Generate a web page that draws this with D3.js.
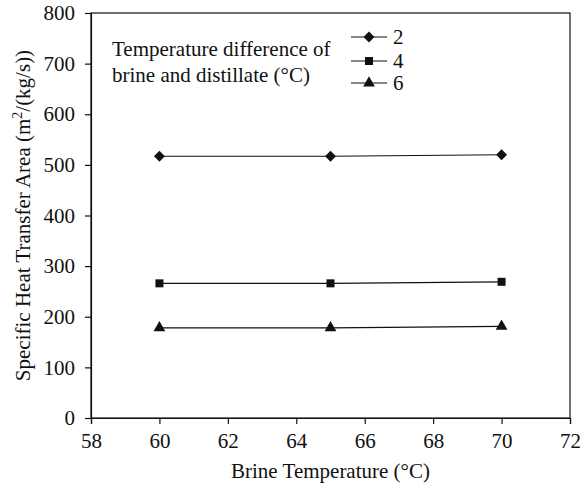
<!DOCTYPE html>
<html>
<head>
<meta charset="utf-8">
<style>
  body { margin: 0; background: #fff; }
  svg text { font-family: "Liberation Serif", "Times New Roman", serif; fill: #111; }
</style>
</head>
<body>
<svg width="585" height="488"></svg>
<script src="https://d3js.org/d3.v7.min.js"></script>
<script>

// brine temperature (°C)
var brineTemp = [60, 65, 70];
// temperature difference of brine and distillate (°C)
var tempDiff = ["2", "4", "6"];
// specific heat transfer area, m2/(kg/s)
var area2 = [517, 517, 520];
var area4 = [266, 266, 269];
var area6 = [178, 178, 181];
var xTicks = [58, 60, 62, 64, 66, 68, 70, 72];
var yTicks = [0, 100, 200, 300, 400, 500, 600, 700, 800];

var series = [
    {name: tempDiff[0], values: area2, symbol: d3.symbolDiamond2, size: 76},
    {name: tempDiff[1], values: area4, symbol: d3.symbolSquare, size: 64},
    {name: tempDiff[2], values: area6, symbol: d3.symbolTriangle, size: 60}
];

var svg = d3.select("svg"),
    margin = {top: 13, right: 15, bottom: 70, left: 91},
    width = +svg.attr("width") - margin.left - margin.right,
    height = +svg.attr("height") - margin.top - margin.bottom,
    g = svg.append("g").attr("transform", "translate(" + margin.left + "," + margin.top + ")");

var x = d3.scaleLinear().domain([58, 72]).range([0, width]);
var y = d3.scaleLinear().domain([0, 800]).range([height, 0]);

// frame
g.append("rect")
    .attr("width", width)
    .attr("height", height)
    .attr("fill", "none")
    .attr("stroke", "#111")
    .attr("stroke-width", 1.2);

var xAxis = g.append("g")
    .attr("transform", "translate(0," + height + ")")
    .call(d3.axisBottom(x).tickValues(xTicks).tickSize(6).tickPadding(9));

var yAxis = g.append("g")
    .call(d3.axisLeft(y).tickValues(yTicks).tickSize(6).tickPadding(10));

[xAxis, yAxis].forEach(function(a) {
    a.attr("font-family", "Liberation Serif").attr("font-size", 21);
    a.select(".domain").attr("stroke", "#111").attr("stroke-width", 1.2);
    a.selectAll(".tick line").attr("stroke", "#111").attr("stroke-width", 1.2);
    a.selectAll(".tick text").attr("fill", "#111");
});

var line = d3.line()
    .x(function(d, i) { return x(brineTemp[i]); })
    .y(function(d) { return y(d); });

series.forEach(function(s) {
    g.append("path")
        .datum(s.values)
        .attr("fill", "none")
        .attr("stroke", "#111")
        .attr("stroke-width", 1.2)
        .attr("d", line);

    g.selectAll(null)
        .data(s.values)
        .enter().append("path")
        .attr("transform", function(d, i) { return "translate(" + x(brineTemp[i]) + "," + y(d) + ")"; })
        .attr("d", d3.symbol().type(s.symbol).size(s.size))
        .attr("fill", "#111");
});

// legend
var legend = svg.append("g");
legend.append("text")
    .attr("x", 112)
    .attr("y", 56)
    .style("font-size", "21px")
    .text("Temperature difference of");
legend.append("text")
    .attr("x", 112)
    .attr("y", 82)
    .style("font-size", "21px")
    .text("brine and distillate (°C)");

var legendY = [37, 61, 83];
series.forEach(function(s, i) {
    var row = legend.append("g").attr("transform", "translate(0," + legendY[i] + ")");
    row.append("line")
        .attr("x1", 351).attr("x2", 387)
        .attr("stroke", "#111").attr("stroke-width", 1.2);
    row.append("path")
        .attr("transform", "translate(369,0)")
        .attr("d", d3.symbol().type(s.symbol).size(s.size))
        .attr("fill", "#111");
    row.append("text")
        .attr("x", 393)
        .attr("dy", "0.34em")
        .style("font-size", "21px")
        .text(s.name);
});

// axis titles
svg.append("text")
    .attr("x", margin.left + width / 2)
    .attr("y", 478)
    .attr("text-anchor", "middle")
    .style("font-size", "21px")
    .text("Brine Temperature (°C)");

var yTitle = svg.append("text")
    .attr("transform", "translate(30," + (margin.top + height / 2) + ") rotate(-90)")
    .attr("text-anchor", "middle")
    .style("font-size", "21px");
yTitle.append("tspan").text("Specific Heat Transfer Area (m");
yTitle.append("tspan").attr("dy", -8).style("font-size", "14px").text("2");
yTitle.append("tspan").attr("dy", 8).text("/(kg/s))");

</script>
</body>
</html>
